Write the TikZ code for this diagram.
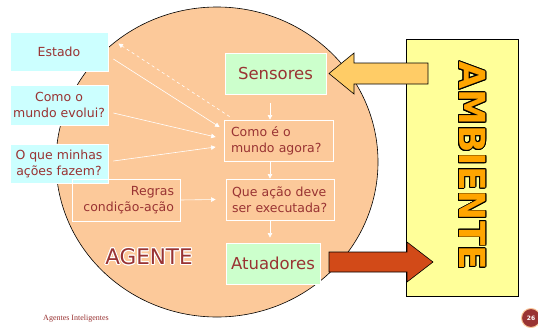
\documentclass[tikz,border=0pt]{standalone}
\usepackage{fontspec}
\setmainfont{DejaVu Sans}
\newfontfamily\footfont{Liberation Serif}
\usepackage{contour}
\usetikzlibrary{arrows.meta}

\definecolor{peach}{HTML}{FCC99A}
\definecolor{cyanfill}{HTML}{CCFFFF}
\definecolor{greenfill}{HTML}{CCFFCC}
\definecolor{txt}{HTML}{993333}
\definecolor{ambfill}{HTML}{FFFF99}
\definecolor{ambtxt}{HTML}{FFA500}
\definecolor{inarrow}{HTML}{FFCC66}
\definecolor{outarrow}{HTML}{D24A18}

\begin{document}
\begin{tikzpicture}[x=1pt,y=-1pt,
    box/.style={draw=white,line width=0.8pt,text=txt,inner sep=0pt,align=center,
        font=\fontsize{12.5}{16}\selectfont},
    wline/.style={color=white,line width=0.6pt,-{Triangle[width=4.5pt,length=4.5pt]}}]
    \useasboundingbox[fill=white] (0,0) rectangle (538,327);
    \draw[fill=peach,line width=0.6pt] (217,162) ellipse [x radius=161pt, y radius=155pt];
    \node[box,fill=cyanfill,minimum width=98pt,minimum height=39pt] (estado) at (59,51.5) {Estado};
    \node[box,fill=cyanfill,minimum width=98pt,minimum height=40pt] (evolui) at (59,105) {Como o\\mundo evolui?};
    \node[box,fill=cyanfill,minimum width=98pt,minimum height=39pt] (acoes) at (59,163.5) {O que minhas\\ações fazem?};
    \node[box,inner xsep=6pt,text width=96pt,align=right,minimum height=42pt] (regras) at (126,200) {Regras\\condição-ação};
    \node[box,fill=greenfill,minimum width=101pt,minimum height=41pt,font=\fontsize{16.5}{20}\selectfont] (sensores) at (275.5,73.5) {Sensores};
    \node[box,inner xsep=7pt,text width=95pt,align=left,minimum height=41pt] (agora) at (278.5,140.5) {Como é o\\mundo agora?};
    \node[box,inner xsep=6pt,text width=96pt,align=left,minimum height=41pt] (acao) at (280,199.5) {Que ação deve\\ser executada?};
    \node[box,fill=greenfill,minimum width=94pt,minimum height=41pt,font=\fontsize{16.5}{20}\selectfont] (atuadores) at (273,263.5) {Atuadores};
    \node[font=\fontsize{21.5}{24}\selectfont] (agente) at (149,257) {\contourlength{0.9pt}\contour{white}{\textcolor{txt}{AGENTE}}};
    \node[draw=black,fill=ambfill,line width=0.6pt,minimum width=112pt,minimum height=257pt] (ambiente) at (462,167.5) {};
    \node[rotate=-90,font=\bfseries\fontsize{36}{40}\selectfont] (ambtext) at (472,166) {\contourlength{0.9pt}\contour{black}{\textcolor{ambtxt}{AMBIENTE}}};
    % block arrows
    \draw[fill=inarrow,line width=0.6pt] (428,63) -- (354,63) -- (354,53) -- (329,73.5) -- (354,94) -- (354,84) -- (428,84) -- cycle;
    \draw[fill=outarrow,line width=0.6pt] (329,252) -- (407,252) -- (407,242) -- (433,262) -- (407,282) -- (407,272) -- (329,272) -- cycle;
    % inner arrows
    \draw[wline] ([xshift=-5.5pt,yshift=-9pt]sensores.south) -- ([xshift=-8.5pt]agora.north);
    \draw[wline] ([xshift=-8.5pt]agora.south) -- ([xshift=-10pt]acao.north);
    \draw[wline] ([xshift=-10pt]acao.south) -- ([xshift=-3pt,yshift=5pt]atuadores.north);
    \draw[wline] ([xshift=5pt,yshift=-7.5pt]estado.east) -- ([xshift=-4pt,yshift=13.5pt]agora.west);
    \draw[wline] ([xshift=5pt,yshift=-8pt]evolui.east) -- ([xshift=-8pt,yshift=3.5pt]agora.west);
    \draw[wline] ([xshift=5pt,yshift=2.5pt]acoes.east) -- ([xshift=-8pt,yshift=-6.5pt]agora.west);
    \draw[wline] (regras.east) -- ([xshift=-10pt]acao.west);
    \draw[wline,dashed] ([xshift=6pt,yshift=3pt]agora.north west) -- ([xshift=10pt,yshift=-12pt]estado.north east);
    % footer
    \node[text=txt,font=\footfont\fontsize{8}{9}\selectfont] (rodape) at (76,319) {Agentes Inteligentes};
    \node[circle,fill=txt,draw=peach,line width=1pt,minimum size=19pt,inner sep=0pt,text=white,
        font=\bfseries\fontsize{6}{7}\selectfont] (pagina) at (531,318) {26};
\end{tikzpicture}
\end{document}
